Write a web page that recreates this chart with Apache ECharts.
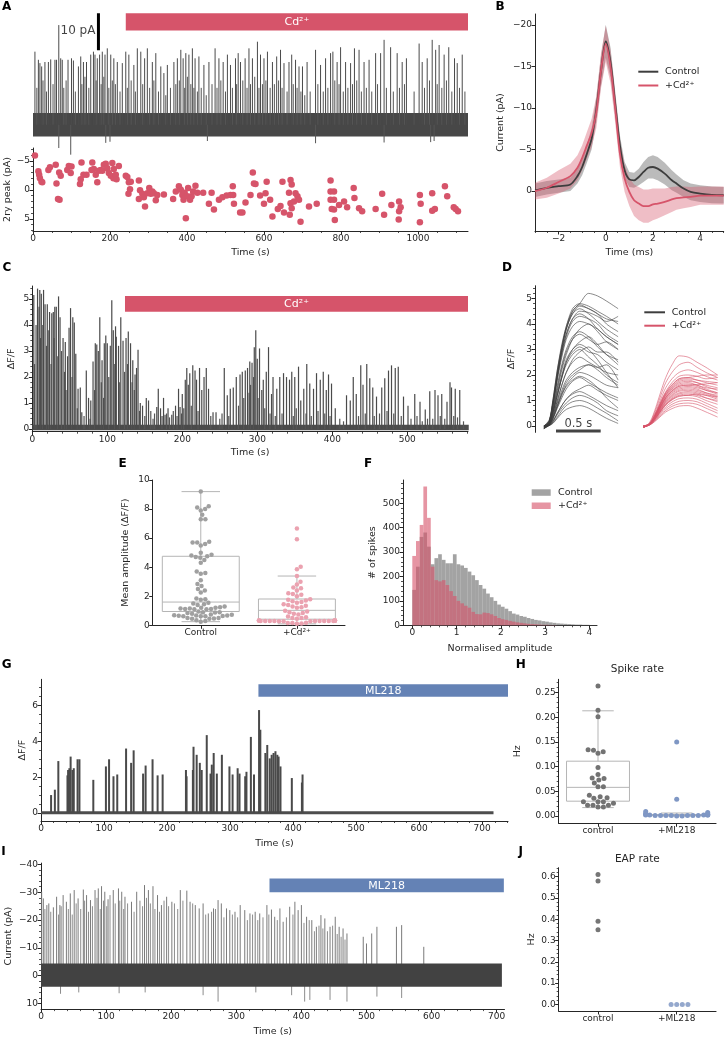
<!DOCTYPE html>
<html>
<head>
<meta charset="utf-8">
<script src="https://cdn.jsdelivr.net/npm/echarts@6/dist/echarts.min.js"></script>
<style>html,body{margin:0;padding:0;background:#fff}#chart{width:728px;height:1037px}</style>
</head>
<body>
<div id="chart"></div>
<script>
// ---- panel A: current trace (spike tops, pA) and 2ry peak amplitudes
const aSpikes = [[5,19.8],[14,17.6],[18,16.7],[22.5,15.8],[31,17],[40,17],[46,17.7],[57,17.6],[61,17.6],[67,27],[72,18],[76,17.6],[91,17.6],[100,18],[105,17.4],[118,15.8],[124,18.5],[131,17],[139,17],[150,19],[157,19.8],[161,19],[167,18],[173,19],[180,19.8],[187,19],[193,20.7],[202,19],[210,18],[219,17],[232,16.7],[241,19.8],[249,19],[262,16.2],[271,20.7],[280,19.8],[290,18],[297,20.7],[310,17],[319,19.4],[332,15.8],[340,14],[349,16.2],[366,17],[375,18],[384,20.3],[390,18],[397,19.4],[405,19],[414,20.7],[421,18],[431,18.5],[444,16.2],[457,17],[473,20.7],[483,18],[494,17],[505,19],[513,16.2],[526,18],[533,19.4],[539,17],[551,18],[561,20.7],[570,18],[583,22.5],[591,19],[600,18],[609,19.8],[622,17],[633,18.5],[643,20.3],[652,16.7],[665,17],[672,19],[682,17.6],[691,15.8],[700,15.8],[712,17],[734,20.3],[747,16.2],[760,18],[773,19.4],[779,19.8],[790,17],[799,21],[812,17],[825,16.7],[835,20.7],[847,20.3],[860,17],[873,17.6],[890,19.4],[903,19.4],[912,23],[929,21],[946,19.4],[959,17],[970,18],[1003,22],[1011,17],[1024,18],[1037,23],[1046,20.3],[1055,21.6],[1068,19],[1080,21],[1095,18],[1102,16.7],[1115,19]];
const aSmall = [[10,10],[26,12],[35,9],[52,11],[80,10],[86,12],[110,9],[127,11],[135,13],[145,10],[164,12],[177,11],[184,13],[197,10],[206,12],[214,11],[226,9],[245,10],[255,12],[266,9],[285,11],[303,10],[314,12],[326,9],[345,8],[357,10],[371,11],[380,12],[394,10],[401,13],[410,11],[418,10],[427,9],[437,10],[450,8],[465,11],[478,10],[488,12],[500,9],[518,10],[529,11],[545,12],[556,10],[565,11],[576,13],[587,10],[596,11],[605,12],[616,10],[627,11],[638,12],[647,10],[660,9],[676,11],[686,10],[696,9],[706,8],[720,9],[740,11],[754,9],[766,10],[784,12],[795,11],[806,9],[818,10],[830,11],[841,12],[853,9],[866,10],[880,9],[895,11],[918,10],[936,9],[952,10],[965,11],[990,9],[1017,10],[1030,12],[1050,11],[1062,10],[1074,12],[1088,9],[1108,10],[1122,9]];
const aDips = [[67,-6.3],[98,-8.1],[189,-4.9],[200,-4.6],[453,-4.4],[734,-5.0],[912,-4.8],[1033,-4.7],[1042,-4.4]];
const aNoise = [0, 1130, -3.2, 3.2];
const aDrug = [241, 1130, 25.5, 30.2];
const aPeaks = [[5,-5.9],[14,-3.2],[16,-2.6],[18,-2.0],[22,-1.4],[24,-1.3],[40,-3.4],[44,-3.9],[59,-4.3],[61,-1.1],[65,1.6],[69,1.7],[68,-3.0],[72,-2.4],[89,-3.4],[93,-4.1],[98,-2.9],[100,-4.0],[122,-1.0],[124,-1.8],[126,-4.7],[131,-2.6],[139,-2.6],[154,-4.7],[152,-3.4],[158,-3.6],[163,-2.6],[167,-1.3],[171,-3.3],[176,-3.4],[180,-3.3],[184,-4.3],[189,-4.5],[193,-3.7],[197,-2.9],[202,-2.4],[206,-4.6],[209,-2.0],[210,-3.6],[215,-2.6],[217,-1.8],[223,-4.1],[241,-2.4],[245,-2.2],[249,-1.3],[252,-0.1],[248,0.7],[254,-1.4],[275,-1.6],[278,0.1],[275,1.6],[284,0.7],[288,1.3],[291,2.9],[297,0.6],[302,-0.3],[306,0.7],[310,0.3],[314,0.6],[319,1.8],[323,0.9],[340,0.8],[364,1.6],[371,0.3],[379,-0.6],[384,0.0],[388,0.9],[391,1.7],[394,0.5],[397,4.9],[401,1.1],[403,-0.3],[408,1.7],[412,1.1],[416,0.3],[422,-0.7],[427,0.5],[442,0.5],[457,2.4],[464,0.5],[470,3.4],[483,1.7],[492,1.3],[503,1.0],[513,0.9],[519,-0.6],[520,0.9],[522,2.4],[538,3.9],[544,3.9],[552,2.2],[565,0.9],[571,-3.0],[574,-1.1],[578,-1.0],[590,1.0],[600,2.4],[604,0.6],[607,-1.4],[616,1.7],[622,4.6],[636,3.3],[643,2.8],[648,-1.4],[652,3.9],[665,0.5],[669,-1.7],[672,-0.9],[669,2.3],[672,3.2],[667,4.3],[678,2.0],[682,0.6],[687,1.1],[691,1.7],[695,5.5],[717,2.9],[737,2.4],[773,-1.6],[773,0.3],[773,1.7],[776,3.3],[782,0.3],[782,1.7],[784,5.2],[782,3.4],[795,2.6],[808,2.0],[816,3.0],[833,-0.3],[835,1.4],[847,3.2],[855,3.7],[890,3.3],[907,0.7],[912,4.3],[931,2.6],[951,2.0],[951,3.7],[950,5.1],[955,3.0],[1005,0.9],[1007,2.4],[1005,5.6],[1037,0.6],[1037,3.6],[1044,3.3],[1070,-0.6],[1076,1.1],[1093,3.0],[1098,3.3],[1104,3.7]];

// ---- panel B: mean waveform (pA) and band half-width
const bTime = [-3,-2.5,-2,-1.5,-1.2,-1,-0.8,-0.6,-0.4,-0.2,0,0.2,0.4,0.6,0.8,1,1.2,1.4,1.6,1.8,2,2.2,2.5,2.8,3,3.3,3.6,4,4.5,5];
const bCtrl = [-0.1,-0.4,-0.6,-0.8,-1.8,-2.9,-4.5,-6.3,-9.8,-14.5,-18,-15.5,-10.5,-5.5,-2.5,-1.4,-1.3,-1.7,-2.3,-2.8,-2.9,-2.7,-2.1,-1.3,-0.9,-0.3,0.1,0.3,0.45,0.5];
const bCtrlHalf = [0.8,0.8,0.8,0.8,0.9,1.0,1.1,1.3,1.5,1.8,2.0,1.8,1.5,1.2,1.0,0.9,0.9,1.0,1.2,1.3,1.4,1.4,1.3,1.2,1.1,1.0,1.0,1.0,1.0,1.0];
const bCd = [0,-0.4,-1.1,-1.8,-2.8,-4.0,-5.5,-7.0,-9.5,-14.5,-17.7,-15,-10,-4.5,-1.5,0.1,1.1,1.5,1.8,1.8,1.6,1.5,1.3,1.0,0.85,0.75,0.7,0.55,0.55,0.55];
const bCdHalf = [1.0,1.2,1.4,1.5,1.5,1.5,1.6,1.7,1.9,2.1,2.2,2.0,1.8,1.6,1.6,1.7,1.9,2.0,2.0,2.0,1.9,1.8,1.6,1.5,1.4,1.3,1.2,1.1,1.1,1.1];

// ---- panel C: calcium trace peaks (dF/F)
const cSpikes = [[2,5.15],[7,5.4],[10,5.35],[12,5.2],[15,5.35],[7,4.6],[9,4.7],[17,4.8],[20,4.8],[23,4.5],[26,4.45],[28,4.5],[30,4.7],[32,4.7],[35,5.1],[37,4.3],[41,3.5],[44,3.35],[47,2.8],[49,3.9],[51,4.65],[54,4.3],[56,4.1],[58,2.9],[61,1.55],[64,1.6],[66,0.65],[72,2.25],[75,1.2],[78,1.1],[81,2.6],[84,3.3],[86,3.25],[88,3.0],[90,4.3],[93,2.65],[96,3.3],[98,3.6],[100,3.3],[104,3.2],[106,4.95],[108,3.8],[111,3.95],[112,3.55],[115,3.2],[118,4.3],[121,3.4],[125,3.5],[128,3.75],[131,3.3],[134,2.65],[137,2.1],[139,2.35],[141,3.05],[144,1.0],[147,0.9],[152,1.2],[155,1.1],[166,0.85],[168,1.55],[171,0.8],[175,1.2],[177,0.55],[181,0.8],[186,0.55],[191,0.9],[195,1.55],[197,0.85],[200,1.35],[204,1.9],[206,2.35],[208,1.7],[210,2.15],[214,2.45],[217,2.25],[219,1.9],[223,2.35],[226,1.5],[229,2.0],[232,2.35],[235,1.55],[241,0.65],[245,0.65],[256,2.35],[260,1.3],[264,1.55],[268,1.6],[272,2.0],[277,2.1],[280,2.2],[284,2.25],[287,2.35],[290,2.6],[293,2.55],[296,3.15],[298,3.8],[300,2.7],[303,3.1],[306,1.5],[308,1.9],[312,2.2],[315,3.15],[319,1.35],[321,2.0],[326,1.55],[330,2.0],[335,2.15],[339,2.0],[343,1.9],[346,2.2],[350,2.0],[355,2.4],[358,1.1],[362,1.55],[366,2.5],[370,1.75],[375,1.55],[379,2.15],[384,1.9],[388,2.2],[392,1.5],[395,2.1],[399,1.75],[404,0.8],[419,1.3],[424,1.1],[428,2.0],[432,1.35],[438,2.45],[441,1.7],[446,2.5],[450,1.95],[454,1.6],[459,1.25],[466,1.6],[470,1.95],[475,2.25],[479,2.45],[484,2.35],[488,2.4],[495,1.25],[501,0.9],[510,1.35],[517,1.05],[524,0.75],[530,1.45],[537,1.5],[541,1.3],[546,1.35],[553,1.05],[557,1.8],[559,1.6],[564,1.55],[570,1.5]];
const cSmall = [[3,2.5],[5,4.0],[11,3.5],[14,4.0],[19,3.2],[22,3.8],[25,2.5],[29,3.5],[34,2.8],[39,3.0],[43,2.2],[45,1.5],[53,2.0],[60,0.8],[69,0.5],[77,0.4],[83,1.5],[92,1.8],[95,1.2],[102,2.0],[110,2.5],[116,1.8],[123,2.2],[127,2.5],[133,1.8],[136,1.5],[143,0.7],[150,0.5],[158,0.7],[161,0.4],[163,0.6],[173,0.5],[179,0.6],[183,0.45],[188,0.7],[193,0.5],[199,0.6],[202,0.8],[212,0.9],[221,0.7],[238,0.5],[250,0.4],[253,0.6],[262,0.5],[275,0.9],[282,1.2],[289,1.4],[291,1.7],[295,2.0],[301,1.2],[310,0.8],[317,0.6],[324,0.5],[333,0.6],[348,0.5],[352,0.8],[365,0.6],[372,0.5],[381,0.7],[390,0.6],[397,0.5],[410,0.4],[415,0.3],[435,0.5],[444,0.6],[456,0.5],[463,0.6],[473,0.7],[482,0.6],[492,0.5],[505,0.4],[513,0.5],[520,0.3],[527,0.4],[534,0.4],[544,0.5],[550,0.4],[562,0.5],[567,0.45],[575,0.3]];
const cNoise = [0, 582, -0.04, 0.17];
const cDrug = [123.6, 581, 4.51, 5.12];

// ---- panel D: individual transients (dF/F) sampled at dTime after trace start
const dTime = [0,0.06,0.1,0.15,0.2,0.25,0.32,0.4,0.5,0.6,0.7,0.83];
const dStartCtrl = 0.1, dStartCd = 1.213;
const dCtrl = [
 [-0.1,0.2,1.0,2.2,3.2,3.9,4.6,4.8,4.7,4.5,4.3,4.0],[0,0.2,0.9,2.1,3.1,3.9,4.5,4.75,4.6,4.4,4.2,4.1],
 [-0.1,0.15,0.8,2.0,3.0,3.8,4.5,4.8,5.2,5.1,4.9,4.6],[0,0.25,1.0,2.2,3.1,3.8,4.4,4.6,4.4,4.1,3.8,3.5],
 [-0.05,0.15,0.8,1.9,2.9,3.6,4.2,4.5,4.45,4.3,4.1,4.3],[0,0.2,0.9,2.0,3.0,3.8,4.4,4.7,4.6,4.4,4.0,3.7],
 [-0.1,0.1,0.6,1.4,2.2,2.8,3.4,3.8,4.0,3.7,3.3,3.0],[-0.05,0.1,0.6,1.5,2.3,2.9,3.4,3.6,3.4,3.2,3.3,3.0],
 [0,0.1,0.5,1.2,1.9,2.5,3.0,3.3,3.5,3.2,2.8,2.6],[-0.1,0.08,0.5,1.2,1.9,2.5,2.9,3.1,2.9,2.8,2.5,2.2],
 [0,0.08,0.4,1.0,1.6,2.1,2.6,2.9,3.1,2.9,2.9,2.5],[-0.05,0.05,0.4,1.0,1.6,2.1,2.5,2.7,2.5,2.3,2.1,2.0],
 [0,0.05,0.3,0.8,1.3,1.7,2.0,2.2,2.4,2.3,2.4,1.8],[-0.1,0.05,0.3,0.8,1.25,1.6,1.9,2.1,2.0,1.8,1.6,1.5],
 [0,0.04,0.25,0.7,1.1,1.45,1.75,1.9,1.7,1.5,1.3,1.1],[-0.05,0.03,0.2,0.5,0.8,1.05,1.3,1.45,1.6,1.4,1.2,1.0],
 [0,0.02,0.18,0.5,0.8,1.05,1.25,1.35,1.2,1.0,0.8,0.6],[-0.1,0.02,0.15,0.45,0.7,0.9,1.1,1.2,1.1,0.9,0.6,0.4],
 [0,0.02,0.12,0.35,0.6,0.8,0.95,1.0,0.9,0.7,0.5,0.2],[-0.05,0.2,0.9,2.0,2.9,3.6,4.2,4.4,4.2,3.8,3.5,3.2],
 [0,0.15,0.8,1.9,2.8,3.5,4.1,4.3,4.2,4.0,3.6,3.3],[-0.05,0.1,0.65,1.6,2.4,3.0,3.5,3.7,3.5,3.1,2.8,2.4],
 [0,0.08,0.5,1.2,1.9,2.4,2.8,3.0,2.7,2.4,2.0,1.7],[-0.1,0.05,0.35,0.9,1.4,1.8,2.1,2.3,2.4,2.2,1.9,1.6],
 [0,0.15,0.75,1.8,2.7,3.4,3.9,4.1,4.0,3.8,3.5,3.2],[-0.05,0.02,0.1,0.3,0.5,0.65,0.75,0.8,0.7,0.5,0.3,0.1],
 [0,0.1,0.55,1.3,2.0,2.6,3.0,3.2,3.0,2.6,2.1,1.5],[-0.05,0.05,0.3,0.75,1.2,1.55,1.8,1.95,1.8,1.5,1.1,0.7]
];
const dCd = [
 [-0.05,0.1,0.35,0.85,1.4,1.9,2.4,2.75,2.7,2.5,2.3,2.0],[0,0.08,0.3,0.75,1.25,1.7,2.1,2.4,2.5,2.3,2.1,1.9],
 [-0.05,0.06,0.26,0.65,1.1,1.5,1.85,2.1,2.2,2.1,1.95,1.8],[0,0.06,0.24,0.6,1.0,1.35,1.7,1.95,2.0,1.95,1.85,1.9],
 [-0.05,0.05,0.22,0.57,0.95,1.3,1.6,1.85,1.9,1.8,1.7,1.6],[0,0.05,0.22,0.55,0.92,1.25,1.55,1.8,1.85,1.8,1.75,1.7],
 [-0.05,0.05,0.2,0.54,0.9,1.22,1.52,1.75,1.8,1.7,1.55,1.4],[0,0.05,0.2,0.52,0.88,1.2,1.48,1.7,1.75,1.7,1.6,1.5],
 [-0.05,0.05,0.2,0.5,0.85,1.15,1.45,1.65,1.7,1.6,1.45,1.3],[0,0.05,0.2,0.5,0.82,1.12,1.4,1.6,1.65,1.6,1.5,1.45],
 [-0.05,0.04,0.19,0.48,0.8,1.1,1.36,1.55,1.6,1.55,1.4,1.25],[0,0.04,0.18,0.46,0.78,1.05,1.32,1.5,1.55,1.5,1.4,1.3],
 [-0.05,0.04,0.18,0.45,0.75,1.02,1.28,1.45,1.5,1.45,1.3,1.15],[0,0.04,0.17,0.43,0.72,0.98,1.23,1.4,1.45,1.4,1.3,1.2],
 [-0.05,0.04,0.17,0.42,0.7,0.95,1.19,1.36,1.4,1.35,1.25,1.1],[0,0.04,0.16,0.4,0.68,0.92,1.15,1.3,1.35,1.3,1.2,1.05],
 [-0.05,0.04,0.16,0.39,0.65,0.88,1.1,1.26,1.3,1.25,1.1,0.95],[0,0.03,0.15,0.37,0.62,0.85,1.06,1.21,1.25,1.2,1.1,1.0],
 [-0.05,0.03,0.14,0.36,0.6,0.82,1.02,1.16,1.2,1.15,1.0,0.85],[0,0.03,0.13,0.33,0.55,0.75,0.94,1.07,1.1,1.05,0.9,0.7],
 [-0.05,0.03,0.12,0.3,0.5,0.68,0.85,0.97,1.0,0.95,0.8,0.6],[0,0.03,0.11,0.27,0.45,0.61,0.77,0.87,0.9,0.85,0.7,0.5],
 [-0.05,0.02,0.1,0.24,0.4,0.55,0.68,0.78,0.8,0.7,0.55,0.35],[0,0.05,0.2,0.5,0.82,1.1,1.38,1.56,1.6,1.62,1.65,1.7],
 [-0.05,0.05,0.23,0.58,0.97,1.3,1.62,1.85,1.9,1.95,2.0,2.0],[0,0.03,0.15,0.37,0.62,0.84,1.04,1.18,1.2,1.25,1.2,1.15]
];

// ---- panel E: mean amplitude per cell and box stats [min, q1, median, q3, max]
const eCtrl = [9.2,8.2,8.1,8.0,7.9,7.6,7.3,7.3,5.75,5.7,5.7,5.6,5.5,5.0,4.85,4.8,4.75,4.7,4.65,4.5,4.3,3.7,3.6,3.55,3.1,2.85,2.7,2.5,2.4,2.25,1.85,1.8,1.75,1.55,1.45,1.4,1.25,1.2,1.15,1.12,1.1,1.1,1.12,1.15,1.2,1.3,1.5,0.95,0.9,0.88,0.85,0.72,0.68,0.66,0.63,0.62,0.62,0.64,0.67,0.7,0.75,0.8,0.9,0.5,0.47,0.45,0.45,0.5,0.35,0.3,0.25];
const eCtrlBox = [0.25, 0.95, 1.6, 4.75, 9.2];
const eCd = [6.67,5.92,4.03,3.85,3.4,3.0,2.8,2.6,2.55,2.4,2.2,2.15,2.1,2.0,1.8,1.75,1.7,1.65,1.6,1.55,1.45,1.4,1.35,1.3,1.25,1.2,1.0,0.95,0.9,0.85,0.8,0.75,0.6,0.55,0.5,0.5,0.45,0.35,0.32,0.3,0.3,0.3,0.3,0.28,0.28,0.3,0.32,0.3,0.3,0.33,0.35,0.3,0.28,0.3,0.32,0.15,0.12,0.1,0.15,0.18];
const eCdBox = [0.1, 0.42, 1.03, 1.81, 3.39];
const eCats = ['Control', '+Cd\u00b2\u207a'];

// ---- panel F: histogram counts, bin width 1/12
const fBin = 1 / 12;
const fCtrl = [145,240,362,380,322,250,275,291,268,254,254,291,250,245,235,220,205,185,165,150,130,115,100,85,76,68,58,48,44,38,35,30,26,22,20,17,15,12,10,8,7,6,5,4,3,3,2,2,1,1];
const fCd = [284,345,411,568,440,240,185,180,185,165,140,120,100,90,80,72,55,46,45,52,50,45,38,30,25,22,18,15,12,10,8,6,5,4,3,2,2,1,1];

// ---- panel G: calcium trace peaks with ML218
const gSpikes = [[16,1.0],[22,1.3],[27.5,2.9],[42,2.1],[43,2.4],[45,2.5],[47,3.15],[50,2.4],[52,2.5],[58,3.0],[61,3.0],[83,1.85],[103,2.6],[108,3.0],[115,2.05],[121,2.15],[135,3.6],[143,2.8],[147,3.5],[162,2.2],[166,2.65],[177,3.0],[185,2.1],[193,2.15],[230,2.4],[231,2.05],[241,2.4],[242,3.7],[247,3.25],[252,2.8],[255,2.4],[263,4.35],[269,2.2],[271,2.7],[274,3.35],[279,2.2],[287,3.25],[299,2.6],[304,2.15],[312,2.5],[315,2.2],[324,2.05],[326,2.3],[333,4.25],[338,2.15],[346,5.75],[348,4.65],[356,3.35],[359,3.8],[363,3.05],[366,3.25],[369,3.35],[372,3.45],[375,3.25],[377,3.15],[380,2.6],[398,1.95],[414,1.7],[415,2.15]];
const gNoise = [0, 718, -0.07, 0.1];
const gDrug = [345, 741, 6.5, 7.2];

// ---- panel H: spike rate (Hz)
const hCtrl = [0.263,0.214,0.201,0.134,0.133,0.130,0.127,0.098,0.084,0.077,0.076,0.073,0.067,0.059,0.059,0.042,0.039,0.037,0.036,0.029,0.029,0.029,0.026,0.022,0.022,0.022,0.018,0.018];
const hCtrlBox = [0.017, 0.030, 0.058, 0.111, 0.213];
const hMl = [0.150,0.034,0.009,0.007,0.005,0.004,0.003,0.003,0.002,0.002,0.002,0.002,0.002,0.001,0.001,0.001,0.001,0.001,0.001,0.001,0.0,0.0];
const hMlBox = [0, 0.001, 0.0015, 0.003, 0.006];
const hCats = ['control', '+ML218'];

// ---- panel I: current trace (pA, negative up)
const iSpikes = [[1,-30.2],[3.6,-27.8],[9,-25.4],[12,-26],[19,-24.6],[24,-28.4],[29,-25.4],[34,-29],[39,-26.6],[45,-29.6],[51,-30.8],[57,-27.8],[65,-31],[70,-29],[76,-27.2],[83,-30.8],[88,-31.4],[93,-32.2],[98,-30.2],[103,-27.5],[111,-30.8],[119,-31.4],[124,-30.2],[129,-28.4],[139,-26.6],[147,-30.2],[159,-32.6],[165,-30.8],[172,-32.2],[179,-29],[185,-25.4],[193,-28.4],[201,-26.6],[214,-30.8],[224,-30.6],[229,-26.6],[237,-25.4],[243,-24.2],[249,-26],[257,-22.4],[265,-24.2],[272,-27.2],[277,-26],[285,-24.2],[290,-23.6],[298,-23],[306,-25.4],[313,-23.6],[321,-22.4],[329,-23],[336,-22.4],[347,-25.4],[354,-23.8],[359,-21.2],[367,-24.2],[372,-19.4],[382,-24.8],[390,-26.6],[395,-23.6],[400,-25.4],[408,-21.2],[416,-20],[423,-17.6],[430,-21.8],[436,-20.6],[444,-17.6],[452,-21.2],[458,-17.6],[464,-17],[470,-15.2],[495,-14],[500,-11.6],[508,-15.2],[516,-17.6],[546,-17.6],[554,-18.2],[588,-10.4]];
const iMore = [[6,-24],[15,-23],[27,-22],[31,-25],[42,-24],[48,-22],[54,-26],[61,-24],[67,-27],[73,-23],[79,-25],[86,-28],[91,-24],[96,-27],[101,-25],[106,-29],[114,-26],[121,-27],[127,-24],[133,-26],[143,-23],[152,-27],[156,-25],[162,-28],[168,-26],[175,-24],[182,-23],[189,-27],[196,-25],[205,-26],[210,-24],[218,-27],[233,-26],[253,-22],[262,-23],[268,-24],[281,-21],[294,-22],[302,-21],[317,-20],[325,-22],[333,-20],[341,-21],[350,-22],[363,-20],[377,-21],[387,-22],[404,-19],[412,-20],[420,-16],[427,-18],[433,-17],[440,-16],[448,-18],[455,-15],[461,-14],[467,-13]];
const iDips = [[30,6.5],[58,6],[120,6.3],[160,6],[249,7],[272,9.3],[330,6],[385,7],[405,9.3],[413,8.7],[444,8.7],[470,9.3],[516,7.5],[554,8]];
const iNoise = [0, 708, -4.4, 4.0];
const iDrug = [351, 711, -35, -30];

// ---- panel J: EAP rate (Hz)
const jCtrl = [0.61, 0.58, 0.39, 0.35];
const jMl = [0, 0, 0, 0];

const FONT = 'DejaVu Sans', INK = '#262626';
const RED = '#d6546a', BLUE = '#6482b5';
const minus = v => String(v).replace('-', '\u2212');
const rng = (a, b, s) => { const r = []; for (let v = a; v <= b + 1e-9; v += s) r.push(+v.toFixed(6)); return r; };

const grids = [
  {left: 33, top: 14, width: 435, height: 144},
  {left: 33, top: 148, width: 435, height: 83},
  {left: 535, top: 14, width: 188.7, height: 217},
  {left: 32.3, top: 286, width: 435.7, height: 145.7},
  {left: 535, top: 285.75, width: 185, height: 146.6},
  {left: 152.7, top: 480, width: 192.3, height: 145.3},
  {left: 403, top: 480, width: 194, height: 145.3},
  {left: 41, top: 679.3, width: 467, height: 141.7},
  {left: 558.65, top: 679.3, width: 157.4, height: 144},
  {left: 41, top: 863.1, width: 463.5, height: 146},
  {left: 558.65, top: 867.7, width: 157.4, height: 143.3}
].map(g => Object.assign({outerBoundsMode: 'none', containLabel: false}, g));

function ax(gi, min, max, o) {
  o = o || {};
  return {
    type: 'value', gridIndex: gi, min: min, max: max, inverse: !!o.inverse, show: !o.hide,
    position: o.pos, name: o.name || '', nameLocation: 'middle', nameGap: o.gap || 18, nameMoveOverlap: false,
    nameTextStyle: {fontFamily: FONT, fontSize: 9.5, color: INK},
    axisLine: {show: true, onZero: false, lineStyle: {color: INK, width: 1}},
    axisTick: {show: true, length: 3.5, customValues: o.ticks, lineStyle: {color: INK, width: 1}},
    axisLabel: {show: true, customValues: o.ticks, fontFamily: FONT, fontSize: 9, color: INK, margin: 3,
      formatter: o.fmt || (v => minus(v))},
    splitLine: {show: false}
  };
}
function minorAx(gi, min, max, ticks, o) {
  o = o || {};
  return {
    type: 'value', gridIndex: gi, min: min, max: max, inverse: !!o.inverse, position: o.pos,
    axisLine: {show: false, onZero: false}, axisLabel: {show: false}, splitLine: {show: false},
    axisTick: {show: true, length: 2, customValues: ticks, lineStyle: {color: INK, width: 0.8}}
  };
}

const xAxes = [
  ax(0, 0, 1130, {hide: true}),
  ax(1, 0, 1130, {ticks: rng(0, 1000, 200), name: 'Time (s)', gap: 17, pos: 'bottom'}),
  ax(2, -3, 5, {ticks: [-2, 0, 2, 4], name: 'Time (ms)', gap: 17, pos: 'bottom'}),
  ax(3, 0, 581, {ticks: rng(0, 500, 100), name: 'Time (s)', gap: 16, pos: 'bottom'}),
  ax(4, 0, 2.07, {hide: true}),
  ax(5, -0.5, 1.5, {ticks: [0, 1], fmt: v => eCats[v], pos: 'bottom'}),
  ax(6, -0.21, 4.17, {ticks: [0, 1, 2, 3, 4], name: 'Normalised amplitude', gap: 18, pos: 'bottom'}),
  ax(7, 0, 741, {ticks: rng(0, 700, 100), name: 'Time (s)', gap: 18, pos: 'bottom'}),
  ax(8, -0.5, 1.5, {ticks: [0, 1], fmt: v => hCats[v], pos: 'bottom'}),
  ax(9, 0, 712, {ticks: rng(0, 700, 100), name: 'Time (s)', gap: 17, pos: 'bottom'}),
  ax(10, -0.5, 1.5, {ticks: [0, 1], fmt: v => hCats[v], pos: 'bottom'}),
  minorAx(1, 0, 1130, rng(0, 1100, 50), {pos: 'bottom'}),
  minorAx(2, -3, 5, rng(-3, 5, 0.5), {pos: 'bottom'}),
  minorAx(3, 0, 581, rng(0, 580, 20), {pos: 'bottom'}),
  minorAx(6, -0.21, 4.17, rng(0, 4.1, 0.2), {pos: 'bottom'}),
  minorAx(7, 0, 741, rng(0, 740, 20), {pos: 'bottom'}),
  minorAx(9, 0, 712, rng(0, 700, 20), {pos: 'bottom'})
];
const yAxes = [
  ax(0, -9, 30, {hide: true}),
  ax(1, -7.2, 7.1, {inverse: true, ticks: [-5, 0, 5], name: '2ry peak (pA)', gap: 20, pos: 'left'}),
  ax(2, -21.3, 4.8, {inverse: true, ticks: [-20, -15, -10, -5, 0], name: 'Current (pA)', gap: 29, pos: 'left'}),
  ax(3, -0.1, 5.5, {ticks: rng(0, 5, 1), name: '\u0394F/F', gap: 16, pos: 'left'}),
  ax(4, -0.25, 5.5, {ticks: rng(0, 5, 1), name: '\u0394F/F', gap: 18, pos: 'left'}),
  ax(5, 0, 10, {ticks: rng(0, 10, 2), name: 'Mean amplitude (\u0394F/F)', gap: 22, pos: 'left'}),
  ax(6, 0, 595, {ticks: rng(0, 500, 100), name: '# of spikes', gap: 25, pos: 'left'}),
  ax(7, -0.45, 7.47, {ticks: [0, 2, 4, 6], name: '\u0394F/F', gap: 13, pos: 'left'}),
  ax(8, -0.0148, 0.2768, {ticks: [0, 0.05, 0.1, 0.15, 0.2, 0.25], fmt: v => v.toFixed(2), name: 'Hz', gap: 36, pos: 'left'}),
  ax(9, -40.5, 12, {inverse: true, ticks: [-40, -30, -20, -10, 0, 10], name: 'Current (pA)', gap: 27, pos: 'left'}),
  ax(10, -0.031, 0.642, {ticks: [0, 0.1, 0.2, 0.3, 0.4, 0.5, 0.6], fmt: v => v.toFixed(1), name: 'Hz', gap: 22, pos: 'left'}),
  minorAx(1, -7.2, 7.1, rng(-7, 7, 1), {inverse: true, pos: 'left'}),
  minorAx(3, -0.1, 5.5, rng(0, 5.4, 0.2), {pos: 'left'}),
  minorAx(4, -0.25, 5.5, rng(0, 5.4, 0.2), {pos: 'left'}),
  minorAx(6, 0, 595, rng(0, 580, 20), {pos: 'left'}),
  minorAx(7, -0.45, 7.47, rng(0, 7, 0.5), {pos: 'left'}),
  minorAx(8, -0.0148, 0.2768, rng(0, 0.27, 0.01), {pos: 'left'}),
  minorAx(9, -40.5, 12, rng(-40, 10, 2), {inverse: true, pos: 'left'}),
  minorAx(10, -0.031, 0.642, rng(0, 0.64, 0.02), {pos: 'left'})
];

// vertical lines from base to value (trace spikes)
function vlines(data, gi, color, width) {
  return {type: 'custom', xAxisIndex: gi, yAxisIndex: gi, silent: true, data: data,
    renderItem: (p, api) => {
      const a = api.coord([api.value(0), 0]), b = api.coord([api.value(0), api.value(1)]);
      return {type: 'line', shape: {x1: a[0], y1: a[1], x2: b[0], y2: b[1]}, style: {stroke: color, lineWidth: width}};
    }};
}
function rectOf(api, x0, x1, y0, y1) {
  const a = api.coord([x0, y0]), b = api.coord([x1, y1]);
  return {x: Math.min(a[0], b[0]), y: Math.min(a[1], b[1]), width: Math.abs(b[0] - a[0]), height: Math.abs(b[1] - a[1])};
}
function band(r, gi, color) {
  return {type: 'custom', xAxisIndex: gi, yAxisIndex: gi, silent: true, data: [r],
    renderItem: (p, api) => ({type: 'rect', shape: rectOf(api, api.value(0), api.value(1), api.value(2), api.value(3)), style: {fill: color}})};
}
function drug(r, gi, color, text) {
  return {type: 'custom', xAxisIndex: gi, yAxisIndex: gi, silent: true, data: [r], z: 5,
    renderItem: (p, api) => {
      const s = rectOf(api, api.value(0), api.value(1), api.value(2), api.value(3));
      return {type: 'group', children: [
        {type: 'rect', shape: s, style: {fill: color}},
        {type: 'text', style: {text: text, x: s.x + s.width / 2, y: s.y + s.height / 2 + 0.5, fill: '#fff',
          font: '11px "DejaVu Sans"', align: 'center', verticalAlign: 'middle'}}]};
    }};
}
function hist(counts, gi, color) {
  return {type: 'custom', xAxisIndex: gi, yAxisIndex: gi, silent: true,
    data: counts.map((h, i) => [i * fBin, (i + 1) * fBin, h]),
    renderItem: (p, api) => ({type: 'rect', shape: rectOf(api, api.value(0), api.value(1), 0, api.value(2)), style: {fill: color}})};
}
function meanBand(t, m, h, gi, color) {
  return {type: 'custom', xAxisIndex: gi, yAxisIndex: gi, silent: true, data: [[t[0], m[0]]],
    renderItem: (p, api) => {
      const up = t.map((x, i) => api.coord([x, m[i] - h[i]]));
      const dn = t.map((x, i) => api.coord([x, m[i] + h[i]])).reverse();
      return {type: 'polygon', shape: {points: up.concat(dn)}, style: {fill: color}};
    }};
}
function boxes(items, gi, color) {
  return {type: 'custom', xAxisIndex: gi, yAxisIndex: gi, silent: true, data: items, z: 1,
    renderItem: (p, api) => {
      const x = api.value(0), v = [1, 2, 3, 4, 5].map(i => api.value(i));
      const c = (xx, yy) => api.coord([xx, yy]);
      const st = {stroke: color, lineWidth: 1};
      const L = (a, b) => ({type: 'line', shape: {x1: a[0], y1: a[1], x2: b[0], y2: b[1]}, style: st});
      return {type: 'group', children: [
        {type: 'rect', shape: rectOf(api, x - 0.4, x + 0.4, v[1], v[3]), style: {stroke: color, lineWidth: 1, fill: 'rgba(0,0,0,0)'}},
        L(c(x - 0.4, v[2]), c(x + 0.4, v[2])),
        L(c(x, v[0]), c(x, v[1])), L(c(x, v[3]), c(x, v[4])),
        L(c(x - 0.2, v[0]), c(x + 0.2, v[0])), L(c(x - 0.2, v[4]), c(x + 0.2, v[4]))]};
    }};
}
// simple beeswarm layout in pixels, clamped to the box width
function swarm(vals, pos, pxY, pxX, d, maxPx) {
  const pts = [];
  vals.slice().sort((a, b) => a - b).forEach(v => {
    const y = v * pxY;
    const near = pts.filter(p => Math.abs(p.y - y) < d);
    const cands = [0];
    near.forEach(p => { const dx = Math.sqrt(d * d - (p.y - y) * (p.y - y)); cands.push(p.x + dx, p.x - dx); });
    cands.sort((a, b) => Math.abs(a) - Math.abs(b) || b - a);
    let x = 0;
    for (const c of cands) {
      if (near.every(p => (p.x - c) ** 2 + (p.y - y) ** 2 >= d * d - 1e-6)) { x = c; break; }
    }
    if (Math.abs(x) > maxPx) x = Math.sign(x) * maxPx;
    pts.push({x: x, y: y, v: v});
  });
  return pts.map(p => [pos + p.x / pxX, p.v]);
}
function dots(data, gi, color, size) {
  return {type: 'scatter', xAxisIndex: gi, yAxisIndex: gi, data: data, symbolSize: size, silent: true, z: 3,
    itemStyle: {color: color, opacity: 1}};
}
function traces(rows, start, color) {
  return rows.map(r => ({type: 'line', xAxisIndex: 4, yAxisIndex: 4, silent: true, symbol: 'none', smooth: 0.3,
    data: dTime.map((t, j) => [start + t, r[j]]), lineStyle: {color: color, width: 0.6}}));
}

const series = [
  band(aNoise, 0, '#474747'),
  vlines(aSmall, 0, '#555555', 1),
  vlines(aSpikes, 0, '#4a4a4a', 1),
  vlines(aDips, 0, '#555555', 1),
  drug(aDrug, 0, RED, 'Cd\u00b2\u207a'),
  {type: 'line', xAxisIndex: 0, yAxisIndex: 0, silent: true, symbol: 'none', data: [[170, 20.2], [170, 30.2]],
    lineStyle: {color: '#000', width: 3}},
  {type: 'scatter', xAxisIndex: 0, yAxisIndex: 0, silent: true, symbolSize: 0, data: [[170, 25.3]],
    label: {show: true, position: 'left', distance: 3, formatter: '10 pA', fontFamily: FONT, fontSize: 12, color: '#111'}},
  dots(aPeaks, 1, RED, 6.5),

  meanBand(bTime, bCtrl, bCtrlHalf, 2, 'rgba(60,60,60,0.35)'),
  meanBand(bTime, bCd, bCdHalf, 2, 'rgba(214,84,106,0.38)'),
  {type: 'line', xAxisIndex: 2, yAxisIndex: 2, silent: true, symbol: 'none', smooth: 0.3,
    data: bTime.map((t, i) => [t, bCtrl[i]]), lineStyle: {color: '#3d3d3d', width: 1.8}},
  {type: 'line', xAxisIndex: 2, yAxisIndex: 2, silent: true, symbol: 'none', smooth: 0.3,
    data: bTime.map((t, i) => [t, bCd[i]]), lineStyle: {color: RED, width: 1.8}},

  band(cNoise, 3, '#4d4d4d'),
  vlines(cSmall, 3, '#555555', 1.2),
  vlines(cSpikes, 3, '#4a4a4a', 1.2),
  drug(cDrug, 3, RED, 'Cd\u00b2\u207a'),

  ...traces(dCtrl, dStartCtrl, '#3a3a3a'),
  ...traces(dCd, dStartCd, RED),
  {type: 'line', xAxisIndex: 4, yAxisIndex: 4, silent: true, symbol: 'none', data: [[0.235, -0.2], [0.735, -0.2]],
    lineStyle: {color: '#444', width: 3}},
  {type: 'scatter', xAxisIndex: 4, yAxisIndex: 4, silent: true, symbolSize: 0, data: [[0.485, -0.2]],
    label: {show: true, position: 'top', distance: 1, formatter: '0.5 s', fontFamily: FONT, fontSize: 11.5, color: '#111'}},

  boxes([[0, ...eCtrlBox], [1, ...eCdBox]], 5, '#b5b5b5'),
  dots(swarm(eCtrl, 0, 14.53, 96.15, 4.6, 38), 5, '#a0a0a0', 4.5),
  dots(swarm(eCd, 1, 14.53, 96.15, 4.6, 38), 5, '#eba2b0', 4.5),

  hist(fCtrl, 6, 'rgba(128,128,128,0.72)'),
  hist(fCd, 6, 'rgba(214,84,106,0.62)'),

  band(gNoise, 7, '#4d4d4d'),
  vlines(gSpikes, 7, '#4a4a4a', 2),
  drug(gDrug, 7, BLUE, 'ML218'),

  boxes([[0, ...hCtrlBox], [1, ...hMlBox]], 8, '#b5b5b5'),
  dots(swarm(hCtrl, 0, 494.7, 78.7, 5.4, 31), 8, '#737373', 5),
  dots(swarm(hMl, 1, 494.7, 78.7, 5.4, 31), 8, '#7f97c4', 5),

  vlines(iMore, 9, '#8c8c8c', 1),
  vlines(iSpikes, 9, '#7a7a7a', 1),
  vlines(iDips, 9, '#8c8c8c', 1),
  band(iNoise, 9, '#424242'),
  drug(iDrug, 9, BLUE, 'ML218'),

  dots(swarm(jCtrl, 0, 212.8, 78.7, 5.6, 31), 10, '#767676', 5),
  dots(swarm(jMl, 1, 212.8, 78.7, 5.6, 31), 10, '#94a8cd', 5)
];

const letter = (t, x, y) => ({type: 'text', style: {text: t, x: x, y: y, font: 'bold 12px "DejaVu Sans"', fill: '#000', align: 'center', verticalAlign: 'middle'}});
const txt = (t, x, y, o) => ({type: 'text', style: Object.assign({text: t, x: x, y: y, font: '9.5px "DejaVu Sans"', fill: INK, align: 'left', verticalAlign: 'middle'}, o || {})});
const seg = (x1, x2, y, c) => ({type: 'line', shape: {x1: x1, y1: y, x2: x2, y2: y}, style: {stroke: c, lineWidth: 2}});
const box = (x, y, c) => ({type: 'rect', shape: {x: x, y: y, width: 19, height: 6.5}, style: {fill: c}});

const graphic = [
  letter('A', 6.7, 6.7), letter('B', 500, 6.7), letter('C', 7, 268), letter('D', 507, 268),
  letter('E', 122.7, 464), letter('F', 368, 464), letter('G', 6.7, 665), letter('H', 520.7, 665),
  letter('I', 3.5, 851.7), letter('J', 520.7, 851.7),
  seg(638.3, 658.3, 71.7, '#3d3d3d'), txt('Control', 665, 71.7),
  seg(638.3, 658.3, 85.5, RED), txt('+Cd\u00b2\u207a', 665, 85.5),
  seg(644.3, 665, 312.3, '#3d3d3d'), txt('Control', 671.7, 312.3),
  seg(644.3, 665, 325.7, RED), txt('+Cd\u00b2\u207a', 671.7, 325.7),
  box(531.7, 489.3, 'rgba(128,128,128,0.72)'), txt('Control', 558, 492.7),
  box(531.7, 502.5, 'rgba(214,84,106,0.62)'), txt('+Cd\u00b2\u207a', 558, 505.7),
  txt('Spike rate', 637.3, 669.5, {align: 'center', font: '10.5px "DejaVu Sans"'}),
  txt('EAP rate', 637.3, 859, {align: 'center', font: '10.5px "DejaVu Sans"'})
];

const chart = echarts.init(document.getElementById('chart'), null, {renderer: 'canvas'});
chart.setOption({
  backgroundColor: '#ffffff',
  animation: false,
  textStyle: {fontFamily: FONT},
  grid: grids,
  xAxis: xAxes,
  yAxis: yAxes,
  series: series,
  graphic: {elements: graphic}
});
</script>
</body>
</html>
